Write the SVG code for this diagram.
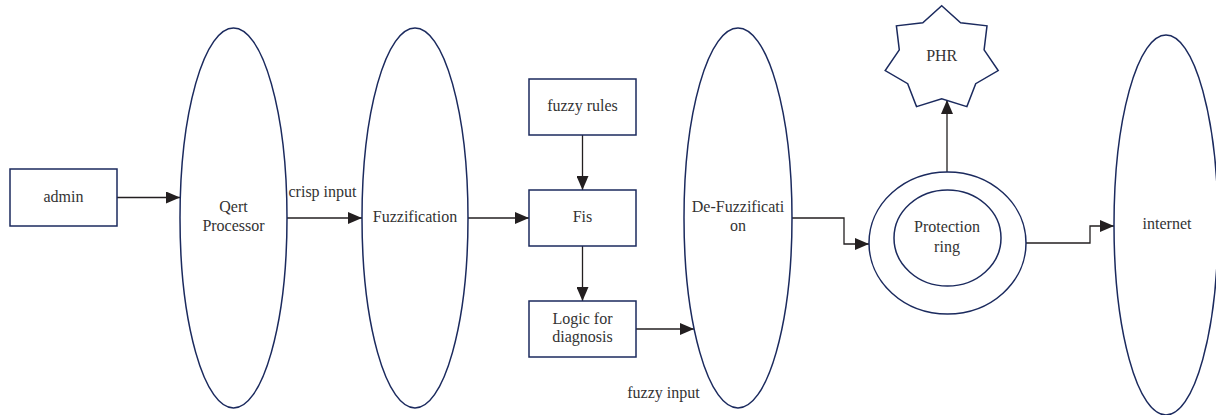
<svg xmlns="http://www.w3.org/2000/svg" width="1216" height="415" viewBox="0 0 1216 415">
  <style>
    .shape { fill: #ffffff; stroke: #1b2a5e; stroke-width: 1.5; }
    .link { fill: none; stroke: #231f20; stroke-width: 1.3; marker-end: url(#head); }
    text { font-family: 'Liberation Serif', 'Times New Roman', Tinos, 'DejaVu Serif', serif; font-size: 16px; fill: #333333; text-anchor: middle; }
  </style>
  <defs>
    <marker id="head" markerUnits="userSpaceOnUse" markerWidth="14" markerHeight="12" refX="14" refY="6" orient="auto">
      <path d="M0,0 L14,6 L0,12 Z" fill="#231f20"/>
    </marker>
  </defs>
  <rect width="1216" height="415" fill="#ffffff"/>

  <g id="connectors">
    <path class="link" d="M117,197.5 H180"/>
    <path class="link" d="M287,218 H362"/>
    <path class="link" d="M468,218 H529"/>
    <path class="link" d="M582.5,135 V190"/>
    <path class="link" d="M582.5,246 V301"/>
    <path class="link" d="M636,329 H694"/>
    <path class="link" d="M792,218 H844 V244 H869"/>
    <path class="link" d="M947,172 V100"/>
    <path class="link" d="M1026,243 H1090 V226 H1114"/>
    <text x="322.5" y="197">crisp input</text>
    <text x="663.5" y="398">fuzzy input</text>
  </g>

  <g id="admin">
    <rect class="shape" x="10" y="169" width="107" height="57"/>
    <text x="63.5" y="201.5">admin</text>
  </g>

  <g id="qert-processor">
    <ellipse class="shape" cx="233.5" cy="218" rx="53.5" ry="190"/>
    <text x="233.5" y="212">Qert</text>
    <text x="233.5" y="231">Processor</text>
  </g>

  <g id="fuzzification">
    <ellipse class="shape" cx="415" cy="218" rx="53" ry="190"/>
    <text x="415" y="222">Fuzzification</text>
  </g>

  <g id="fuzzy-rules">
    <rect class="shape" x="529" y="79" width="107" height="56"/>
    <text x="582.5" y="111">fuzzy rules</text>
  </g>

  <g id="fis">
    <rect class="shape" x="529" y="190" width="107" height="56"/>
    <text x="582.5" y="222">Fis</text>
  </g>

  <g id="logic">
    <rect class="shape" x="529" y="301" width="107" height="56"/>
    <text x="582.5" y="323.5">Logic for</text>
    <text x="582.5" y="342">diagnosis</text>
  </g>

  <g id="de-fuzzification">
    <ellipse class="shape" cx="738" cy="218" rx="54" ry="190"/>
    <text x="738" y="212">De-Fuzzificati</text>
    <text x="738" y="231">on</text>
  </g>

  <g id="phr">
    <polygon class="shape" points="941.7,5.8 960.6,22.8 987,25.8 984.1,49.9 998.2,70.6 975.7,83.7 966.9,106.6 941.7,98.8 916.5,106.6 907.7,83.7 885.2,70.6 899.3,49.9 896.4,25.8 922.8,22.8"/>
    <text x="941.7" y="60.5">PHR</text>
  </g>

  <g id="protection-ring">
    <ellipse class="shape" cx="947.5" cy="243" rx="78.5" ry="71"/>
    <ellipse class="shape" cx="947.5" cy="238" rx="53.5" ry="48"/>
    <text x="947" y="232">Protection</text>
    <text x="947" y="252">ring</text>
  </g>

  <g id="internet">
    <ellipse class="shape" cx="1166" cy="225" rx="52" ry="190"/>
    <text x="1167" y="229">internet</text>
  </g>
</svg>
